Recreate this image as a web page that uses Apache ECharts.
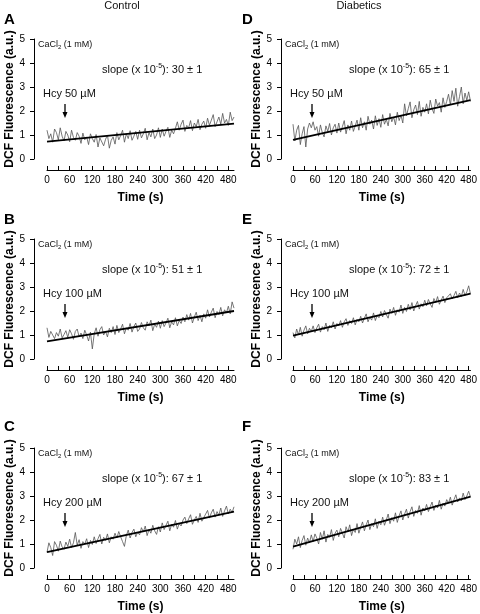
<!DOCTYPE html>
<html>
<head>
<meta charset="utf-8">
<script src="https://cdn.jsdelivr.net/npm/echarts@6/dist/echarts.min.js"></script>
<style>html,body{margin:0;padding:0;background:#fff}#c{width:480px;height:614px}</style>
</head>
<body>
<div id="c"></div>
<script>
// ---- data ----
const TIME = [0,5,10,15,20,25,30,35,40,45,50,55,60,65,70,75,80,85,90,95,100,105,110,115,120,125,130,135,140,145,150,155,160,165,170,175,180,185,190,195,200,205,210,215,220,225,230,235,240,245,250,255,260,265,270,275,280,285,290,295,300,305,310,315,320,325,330,335,340,345,350,355,360,365,370,375,380,385,390,395,400,405,410,415,420,425,430,435,440,445,450,455,460,465,470,475,480,485,490,495];
const X_LABELS = [0,60,120,180,240,300,360,420,480];
const X_TICKS = [0,30,60,90,120,150,180,210,240,270,300,330,360,390,420,450,480];
const PANEL_LETTERS = ['A','B','C','D','E','F'];
const COLUMN_TITLES = ['Control','Diabetics'];
const HCY_LABELS = ['Hcy 50 µM','Hcy 100 µM','Hcy 200 µM','Hcy 50 µM','Hcy 100 µM','Hcy 200 µM'];
const SLOPES = ['30 ± 1','51 ± 1','67 ± 1','65 ± 1','72 ± 1','83 ± 1'];

const traceA = [1.2,0.85,1.05,0.7,1.25,1.1,0.8,1.3,0.95,0.75,1.15,
 1.0,0.72,1.2,0.9,0.78,1.1,
 0.95,0.65,1.08,0.8,0.92,0.6,1.05,0.85,
 0.7,1.02,0.5,0.88,0.95,0.55,0.82,1.0,0.45,0.78,0.92,0.62,
 1.1,0.8,0.98,1.2,0.7,1.05,0.85,1.18,0.78,0.95,1.15,0.82,
 1.2,0.88,1.05,1.28,0.8,1.1,0.92,1.25,0.85,1.0,1.3,0.9,
 1.25,0.95,1.15,1.32,0.9,1.2,1.05,1.28,
 1.55,1.2,1.45,1.62,1.15,1.4,1.3,1.6,1.18,1.5,1.35,1.65,1.22,1.45,1.58,1.28,
 1.7,1.4,1.62,1.85,1.35,1.55,1.75,1.45,1.9,1.5,1.65,1.4,1.95,1.6,1.75];
const traceB = [1.3,0.9,1.15,1.2,0.85,1.1,0.95,1.25,0.88,1.02,1.18,
 0.9,1.22,1.05,0.82,1.15,1.25,0.92,1.08,0.85,1.2,1.0,0.75,1.12,0.42,
 1.05,1.3,0.95,1.22,1.35,1.0,1.15,0.92,1.28,1.1,1.35,1.02,
 1.4,1.1,1.25,1.45,1.05,1.3,1.2,1.48,1.12,1.35,1.5,1.15,
 1.25,1.52,1.3,1.2,1.55,1.38,1.62,1.18,1.45,1.32,1.58,1.28,
 1.6,1.35,1.5,1.7,1.3,1.55,1.42,1.72,1.38,1.6,1.48,1.75,
 1.55,1.85,1.62,1.9,1.5,1.75,1.95,1.6,1.82,1.55,1.88,1.7,
 2.05,1.75,1.95,2.12,1.72,1.98,1.85,2.15,1.8,2.05,1.92,2.2,1.88,2.38,2.12];
const traceC = [0.65,1.05,0.85,0.52,1.1,0.95,0.7,1.12,0.88,0.78,1.08,
 0.9,1.2,0.85,1.05,1.48,0.95,1.18,0.82,1.1,1.0,1.22,0.85,1.15,0.98,
 1.3,1.02,1.22,1.4,1.0,1.28,1.15,1.42,1.05,1.3,1.2,1.45,
 1.25,1.52,1.3,1.1,0.9,1.35,1.58,1.25,1.48,1.62,1.3,1.5,
 1.38,1.68,1.5,1.75,1.35,1.6,1.45,1.78,1.55,1.4,1.72,1.5,
 1.88,1.6,1.78,1.95,1.55,1.82,1.7,1.98,1.62,1.85,1.75,2.0,
 2.12,1.85,2.05,2.22,1.82,2.0,2.15,1.9,2.28,1.95,2.1,2.25,
 2.4,2.08,2.3,2.45,2.12,2.35,2.2,2.5,2.15,2.38,2.58,2.25,2.45,2.32,2.55];
const traceD = [1.45,0.75,1.2,1.4,0.6,1.05,1.35,0.5,1.25,1.5,1.3,
 1.55,1.2,1.35,0.95,1.42,1.1,0.92,1.38,1.15,1.48,1.0,1.3,1.45,1.08,
 1.5,1.12,1.35,1.6,1.05,1.42,1.2,1.58,1.15,1.38,1.62,1.2,
 1.72,1.3,1.55,1.2,1.78,1.45,1.62,1.25,1.8,1.4,1.68,1.32,
 1.85,1.45,1.65,1.38,1.9,1.55,1.75,1.42,1.95,1.6,1.82,1.5,
 2.3,1.8,2.1,2.38,1.72,2.05,2.25,1.85,2.4,1.78,2.15,1.95,
 2.3,1.88,2.45,2.1,1.9,2.5,2.2,2.35,1.95,2.55,2.15,2.4,
 2.7,2.25,2.85,2.4,2.95,2.2,2.6,3.0,2.3,2.75,2.45,2.8,2.4];
const traceE = [1.1,0.88,1.25,1.0,1.32,0.95,1.2,1.38,1.05,1.28,1.15,
 1.38,1.1,1.3,1.45,1.12,1.35,1.22,1.5,1.15,1.4,1.3,1.55,1.25,1.48,
 1.38,1.6,1.32,1.55,1.68,1.4,1.6,1.48,1.72,1.42,1.65,1.55,
 1.78,1.5,1.7,1.88,1.55,1.75,1.62,1.92,1.6,1.82,1.72,1.98,
 1.75,2.02,1.85,1.7,2.08,1.9,2.15,1.82,2.05,1.95,2.25,1.9,
 2.15,1.98,2.28,2.05,2.35,2.0,2.22,2.4,2.08,2.3,2.18,2.45,
 2.22,2.48,2.3,2.15,2.52,2.35,2.6,2.28,2.45,2.62,2.35,2.55,
 2.48,2.72,2.5,2.65,2.82,2.55,2.75,2.6,2.9,2.65,2.8,3.05,2.7];
const traceF = [0.78,1.2,1.0,1.3,0.85,1.15,1.35,0.95,1.25,1.05,1.38,
 1.1,1.42,1.25,1.0,1.48,1.2,1.55,1.08,1.4,1.28,1.6,1.15,1.45,1.58,
 1.3,1.65,1.45,1.25,1.72,1.5,1.8,1.35,1.62,1.48,1.85,1.45,
 1.7,1.92,1.55,1.8,2.0,1.6,1.85,1.72,2.05,1.65,1.95,1.8,
 2.12,1.78,2.0,2.25,1.85,2.1,1.95,2.3,1.9,2.18,2.38,2.0,
 2.25,2.45,2.08,2.35,2.55,2.15,2.4,2.28,2.6,2.2,2.5,2.38,
 2.65,2.35,2.55,2.75,2.4,2.62,2.5,2.82,2.45,2.7,2.58,2.85,
 2.7,2.95,2.62,2.85,3.05,2.75,2.92,2.8,3.12,2.85,3.0,3.2,2.95];
// fitted regression lines: [t, value] at start and end
const fitA = [[0,0.72],[495,1.47]];
const fitB = [[0,0.73],[495,2.0]];
const fitC = [[0,0.66],[495,2.35]];
const fitD = [[0,0.80],[485,2.45]];
const fitE = [[0,0.97],[485,2.72]];
const fitF = [[0,0.89],[485,2.97]];

const TRACES = [traceA,traceB,traceC,traceD,traceE,traceF];
const FITS = [fitA,fitB,fitC,fitD,fitE,fitF];

// ---- layout ----
const FONT = "'Liberation Sans', Arial, sans-serif";
const ROW_TOP = [39, 239, 448];
const ROW_OY = [0, 200, 409];
const LETTER_Y = [21, 221, 428];
const COL_LEFT = [47, 293];
const COL_OX = [0, 247];
const COL_MAX = [495, 485];
const COL_YOFF = [13, 12];

const grids = [], xAxes = [], yAxes = [], series = [], graphics = [];
for (let p = 0; p < 6; p++) {
  const c = p < 3 ? 0 : 1, r = p % 3;
  grids.push({left: COL_LEFT[c], top: ROW_TOP[r], width: 187, height: 120});
  xAxes.push({
    gridIndex: p, type: 'value', min: 0, max: COL_MAX[c], offset: 11, position: 'bottom',
    axisLine: {show: true, onZero: false, lineStyle: {color: '#000', width: 1}},
    axisTick: {show: true, inside: true, length: 4, customValues: X_TICKS, lineStyle: {color: '#000'}},
    axisLabel: {customValues: X_LABELS, fontSize: 10, margin: 5, color: '#000', fontFamily: FONT},
    splitLine: {show: false},
    name: 'Time (s)', nameLocation: 'middle', nameGap: 22,
    nameTextStyle: {fontSize: 12, fontWeight: 'bold', color: '#000', fontFamily: FONT}
  });
  yAxes.push({
    gridIndex: p, type: 'value', min: 0, max: 5, interval: 1, offset: COL_YOFF[c], position: 'left',
    axisLine: {show: true, onZero: false, lineStyle: {color: '#000', width: 1}},
    axisTick: {show: true, inside: false, length: 4, lineStyle: {color: '#000'}},
    axisLabel: {fontSize: 10, margin: 9, color: '#000', fontFamily: FONT},
    splitLine: {show: false},
    name: 'DCF Fluorescence (a.u.)', nameLocation: 'middle', nameGap: 16, nameRotate: 90,
    nameTextStyle: {fontSize: 12, fontWeight: 'bold', color: '#000', fontFamily: FONT}
  });
  series.push({
    type: 'line', xAxisIndex: p, yAxisIndex: p, showSymbol: false, silent: true,
    data: TRACES[p].map((v, i) => [TIME[i], v]),
    lineStyle: {color: '#555', width: 0.8}, clip: true, z: 2
  });
  series.push({
    type: 'line', xAxisIndex: p, yAxisIndex: p, showSymbol: false, silent: true,
    data: FITS[p], lineStyle: {color: '#000', width: 1.8}, z: 3
  });

  const ox = COL_OX[c], oy = ROW_OY[r];
  graphics.push({type: 'text', left: c ? 242 : 4, top: LETTER_Y[r] - 9,
    style: {text: PANEL_LETTERS[p], font: 'bold 15px ' + FONT, fill: '#000'}});
  graphics.push({type: 'text', x: 38 + ox, y: 45 + oy,
    style: {text: '{a|CaCl}{b|2}{a| (1 mM)}', verticalAlign: 'middle', fill: '#111',
      rich: {a: {fontSize: 9, fontFamily: FONT, lineHeight: 11, verticalAlign: 'middle'},
             b: {fontSize: 6, fontFamily: FONT, lineHeight: 11, verticalAlign: 'bottom'}}}});
  graphics.push({type: 'text', x: 102 + ox, y: 70 + oy,
    style: {text: '{a|slope (x 10}{s|-5}{a|): ' + SLOPES[p] + '}', verticalAlign: 'middle', fill: '#111',
      rich: {a: {fontSize: 11, fontFamily: FONT, lineHeight: 14, verticalAlign: 'middle'},
             s: {fontSize: 7, fontFamily: FONT, lineHeight: 14, verticalAlign: 'top'}}}});
  graphics.push({type: 'text', x: 43 + ox, y: 94 + oy,
    style: {text: HCY_LABELS[p], font: '11px ' + FONT, fill: '#111', verticalAlign: 'middle'}});
  const ax = 65 + ox;
  graphics.push({type: 'line', shape: {x1: ax, y1: 104 + oy, x2: ax, y2: 113 + oy},
    style: {stroke: '#000', lineWidth: 1.3}});
  graphics.push({type: 'polygon', shape: {points: [[ax - 2.5, 112 + oy], [ax + 2.5, 112 + oy], [ax, 118 + oy]]},
    style: {fill: '#000'}});
}
graphics.push({type: 'text', x: 122, y: 6, style: {text: COLUMN_TITLES[0], font: '11px ' + FONT, fill: '#111', align: 'center', verticalAlign: 'middle'}});
graphics.push({type: 'text', x: 359, y: 6, style: {text: COLUMN_TITLES[1], font: '11px ' + FONT, fill: '#111', align: 'center', verticalAlign: 'middle'}});

const chart = echarts.init(document.getElementById('c'), null, {renderer: 'canvas'});
chart.setOption({
  animation: false,
  backgroundColor: '#fff',
  textStyle: {fontFamily: FONT},
  grid: grids, xAxis: xAxes, yAxis: yAxes, series: series,
  graphic: graphics
});
</script>
</body>
</html>
